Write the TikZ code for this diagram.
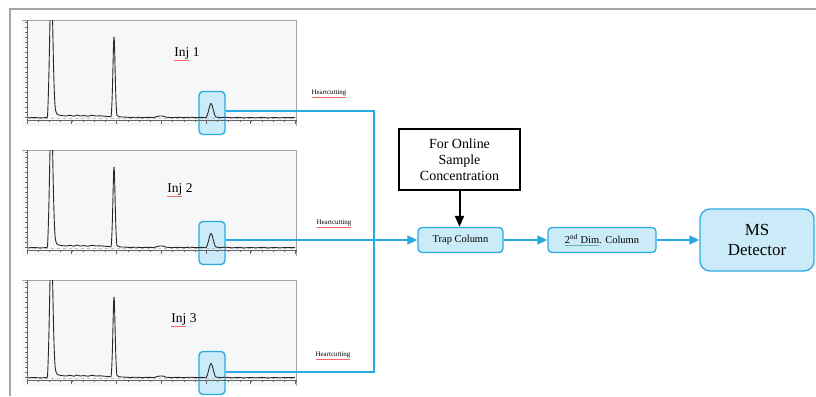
\documentclass[tikz,border=0pt]{standalone}
\usepackage{fontspec}
\setmainfont{Liberation Serif}
\usetikzlibrary{arrows.meta}
\definecolor{lineblue}{RGB}{41,171,226}
\definecolor{boxfill}{RGB}{204,235,248}
\definecolor{panelbg}{RGB}{245,247,249}
\definecolor{framegray}{RGB}{165,165,165}
\definecolor{tracecol}{RGB}{40,40,40}
\newcommand{\spl}[1]{{\color{red!60}\underline{\color{black}#1}}}
\newcommand{\grm}[1]{{\color{teal!60}\underline{\color{black}#1}}}
\tikzset{
  conn/.style={draw=lineblue, line width=1.8bp},
  connarrow/.style={conn, -{Triangle[length=10bp,width=9bp]}},
  bluebox/.style={draw=lineblue, fill=boxfill, line width=1.3bp, rounded corners=4bp, inner sep=0pt},
  hlbox/.style={bluebox, minimum width=26bp, minimum height=43bp},
  axisline/.style={draw=gray!80!black, line width=0.5bp},
  trace/.style={draw=tracecol, line width=0.9bp, line join=round},
  hclabel/.style={font=\fontsize{7}{8}\selectfont, inner sep=1pt},
  injlabel/.style={font=\fontsize{13.5}{15}\selectfont, inner sep=0pt},
}
% #1 = shift, #2 = name of the highlight box
\newcommand{\chromat}[2]{%
  \begin{scope}[shift={(#1)}]
    \fill[panelbg] (0,0) rectangle (274,106);
    \draw[framegray, line width=0.8bp] (0,0) -- (274,0) -- (274,106);
    \node[hlbox] (#2) at (190,93) {};
    \draw[axisline] (5,0) -- (5,100) -- (274,100);
    \foreach \t in {2,7,...,97} \draw[axisline] (3,\t) -- (5,\t);
    \foreach \t in {5,16.2,...,274} \draw[axisline] (\t,100) -- (\t,102);
    \foreach \t in {5,49.7,...,274} \draw[axisline] (\t,100) -- (\t,104);
    \draw[gray!50, dashed, line width=0.3bp] (5,98) -- (274,98);
    \draw[trace] (6,97.8) -- (12,97.5) -- (18,97.9) -- (24,97.6) -- (25.5,97.2)
      .. controls (26.8,70) and (27.5,25) .. (28,0);
    \draw[trace] (30.6,0) .. controls (31.2,30) and (32,80) .. (33.5,90)
      .. controls (34.5,95) and (36,95.5) .. (39,95.5) -- (44,96) -- (48,95.3) -- (52,96.2)
      -- (55,95) -- (58,96) -- (62,95.6) -- (66,96.2) -- (70,95.3) -- (74,96) -- (78,95.8)
      -- (86,96.5) -- (89,96.8) .. controls (90.5,90) and (91.3,17) .. (92,17)
      .. controls (92.8,17) and (93.5,90) .. (95,95.5) .. controls (96,97) and (98,97) .. (102,97)
      -- (108,97.5) -- (114,97.2) -- (120,97.6) -- (126,97.3) -- (132,97.5)
      .. controls (136,96) and (141,95) .. (144,97.2) -- (150,97.6) -- (156,97.3) -- (162,97.7)
      -- (168,97.2) -- (174,97.6) -- (180,97.4) -- (184,97.6)
      .. controls (186,96) and (187.5,83.5) .. (189,83.5) .. controls (190.5,83.5) and (192,96) .. (194,97)
      -- (198,97.6) -- (204,97.2) -- (210,97.8) -- (216,97.4) -- (222,97.9) -- (228,97.5)
      -- (234,97.8) -- (240,97.4) -- (246,97.9) -- (252,97.5) -- (258,97.8) -- (264,97.5) -- (273,97.7);
  \end{scope}}
\begin{document}
\begin{tikzpicture}[x=1bp,y=-1bp]
\useasboundingbox (0,0) rectangle (816,396);
% outer frame
\draw[framegray, line width=2bp] (10,396) -- (10,9) -- (816,9);

% chromatograms
\chromat{22,20}{hl1}
\chromat{22,150}{hl2}
\chromat{22,280}{hl3}
\node[injlabel] (inj1) at (187,54) {\spl{Inj} 1};
\node[injlabel] (inj2) at (180,190) {\spl{Inj} 2};
\node[injlabel] (inj3) at (184,320) {\spl{Inj} 3};

% heartcutting labels
\node[hclabel] (hc1) at (329,94) {\spl{Heartcutting}};
\node[hclabel] (hc2) at (334,224) {\spl{Heartcutting}};
\node[hclabel] (hc3) at (333,356) {\spl{Heartcutting}};

% process boxes
\node[draw=black, line width=1.5bp, minimum width=121bp, minimum height=61bp, inner sep=0pt,
      align=center, font=\fontsize{14}{16}\selectfont] (conc) at (459.5,159.5)
      {For Online\\Sample\\Concentration};
\node[bluebox, minimum width=85bp, minimum height=25bp, font=\fontsize{10.5}{12}\selectfont]
      (trap) at (460.5,240) {Trap Column};
\node[bluebox, minimum width=108bp, minimum height=25bp, font=\fontsize{10.5}{12}\selectfont]
      (dim2) at (602,240) {\grm{2\textsuperscript{nd} Dim}. Column};
\node[bluebox, rounded corners=10bp, minimum width=114bp, minimum height=62bp, align=center,
      font=\fontsize{17}{20}\selectfont] (ms) at (757,240) {MS\\Detector};

% connectors
\coordinate (bend) at (374,200);
\draw[conn] ([yshift=2bp]hl1.east) -| (bend) |- ([yshift=1bp]hl3.east);
\draw[connarrow] ([yshift=3bp]hl2.east) -- ([yshift=3bp]hl2.east -| trap.west);
\draw[connarrow] (trap.east) -- (dim2.west);
\draw[connarrow] (dim2.east) -- (ms.west);
\draw[line width=2bp, -{Triangle[length=11bp,width=9bp]}] (conc.south) -- (conc.south |- trap.north);
\end{tikzpicture}
\end{document}
